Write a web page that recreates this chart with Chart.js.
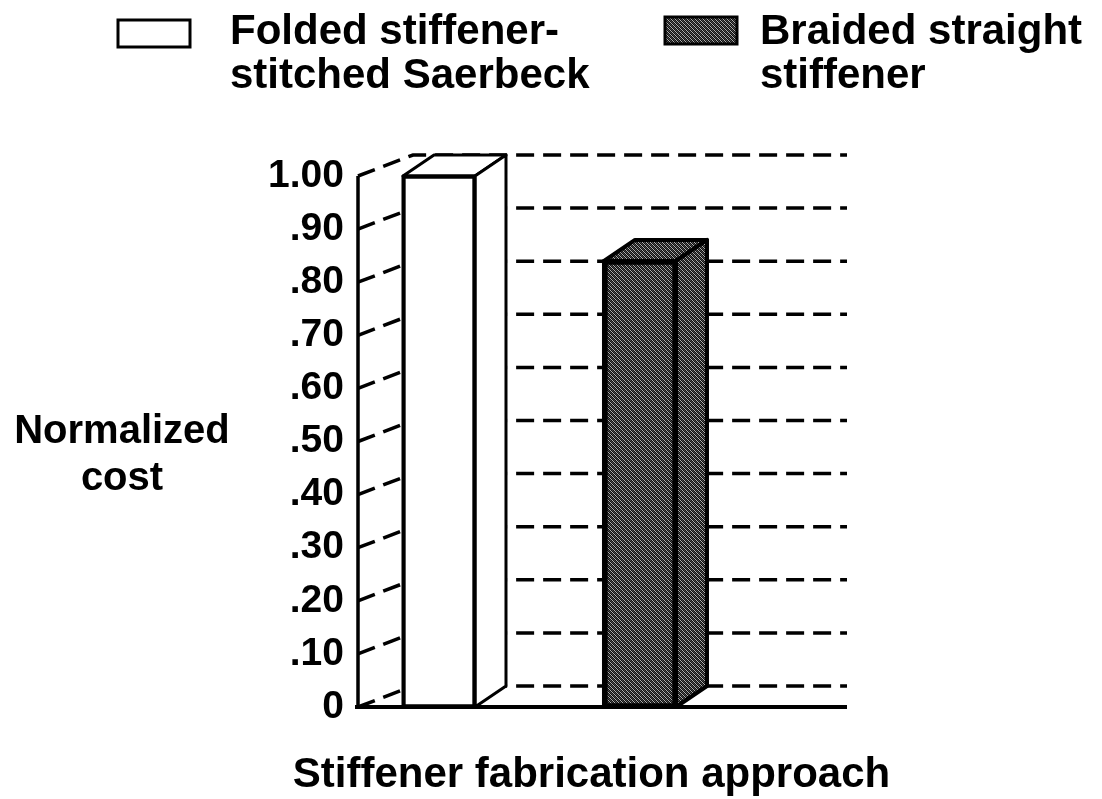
<!DOCTYPE html>
<html>
<head>
<meta charset="utf-8">
<script src="https://cdn.jsdelivr.net/npm/chart.js@4.4.1/dist/chart.umd.min.js"></script>
<style>
  html, body { margin: 0; padding: 0; background: #fff; }
</style>
</head>
<body>
<canvas id="myChart" width="1102" height="799"></canvas>
<script>
// Datos
const categories = ['Folded stiffener-stitched Saerbeck', 'Braided straight stiffener'];
const legendLines = [['Folded stiffener-', 'stitched Saerbeck'], ['Braided straight', 'stiffener']];
const costValues = [1.00, 0.84];
const tickValues = [0, 0.1, 0.2, 0.3, 0.4, 0.5, 0.6, 0.7, 0.8, 0.9, 1.0];
const tickLabels = ['0', '.10', '.20', '.30', '.40', '.50', '.60', '.70', '.80', '.90', '1.00'];
const yTitle = ['Normalized', 'cost'];
const xTitle = 'Stiffener fabrication approach';

const FONT = "'Liberation Sans', Arial, Helvetica, sans-serif";
const canvas = document.getElementById('myChart');
const ctx = canvas.getContext('2d');

// trama oscura tipo punteado
function makePattern() {
    const c = document.createElement('canvas');
    c.width = 4; c.height = 4;
    const g = c.getContext('2d');
    g.fillStyle = '#111';
    g.fillRect(0, 0, 4, 4);
    g.fillStyle = '#b0b0b0';
    for (let i = 0; i < 4; i++) g.fillRect(i, i, 1, 1);
    g.fillStyle = '#4a4a4a';
    for (let i = 0; i < 4; i++) g.fillRect(i, (i + 2) % 4, 1, 1);
    return ctx.createPattern(c, 'repeat');
}
const darkFill = makePattern();
const fills = ['#ffffff', darkFill];
const borders = [3, 4];

// profundidad 3D
const depthX = 31, depthY = 21, wallX = 55;

const threeD = {
    id: 'threeD',
    beforeDatasetsDraw(chart) {
        const { ctx, chartArea: a, scales: { y } } = chart;
        ctx.save();
        ctx.strokeStyle = '#000';
        ctx.lineWidth = 3.5;
        ctx.setLineDash([18, 9]);
        tickValues.forEach(v => {
            const py = y.getPixelForValue(v);
            ctx.beginPath();
            ctx.moveTo(a.left, py);
            ctx.lineTo(a.left + wallX, py - depthY);
            ctx.lineTo(a.right, py - depthY);
            ctx.stroke();
        });
        ctx.setLineDash([]);
        ctx.beginPath();
        ctx.moveTo(a.left, y.getPixelForValue(1));
        ctx.lineTo(a.left, y.getPixelForValue(0));
        ctx.stroke();
        ctx.restore();
    },
    afterDatasetsDraw(chart) {
        const { ctx, chartArea: a, scales: { y } } = chart;
        const meta = chart.getDatasetMeta(0);
        ctx.save();
        ctx.strokeStyle = '#000';
        ctx.lineJoin = 'round';
        meta.data.forEach((bar, i) => {
            const { x, y: top, base, width } = bar.getProps(['x', 'y', 'base', 'width'], true);
            const L = x - width / 2, R = x + width / 2;
            ctx.fillStyle = fills[i];
            ctx.lineWidth = borders[i];
            // cara superior
            ctx.beginPath();
            ctx.moveTo(L, top);
            ctx.lineTo(L + depthX, top - depthY);
            ctx.lineTo(R + depthX, top - depthY);
            ctx.lineTo(R, top);
            ctx.closePath();
            ctx.fill();
            ctx.stroke();
            // cara lateral
            ctx.beginPath();
            ctx.moveTo(R, top);
            ctx.lineTo(R + depthX, top - depthY);
            ctx.lineTo(R + depthX, base - depthY);
            ctx.lineTo(R, base);
            ctx.closePath();
            ctx.fill();
            ctx.stroke();
            ctx.strokeRect(L, top, width, base - top);
        });
        // línea base
        ctx.lineWidth = 4;
        ctx.beginPath();
        ctx.moveTo(a.left - 3, y.getPixelForValue(0));
        ctx.lineTo(a.right, y.getPixelForValue(0));
        ctx.stroke();
        ctx.restore();
    },
    afterDraw(chart) {
        const { ctx, chartArea: a } = chart;
        ctx.save();
        ctx.fillStyle = '#000';
        ctx.textBaseline = 'alphabetic';
        // título eje Y horizontal
        ctx.font = 'bold 40px ' + FONT;
        ctx.textAlign = 'center';
        ctx.fillText(yTitle[0], 122, 443);
        ctx.fillText(yTitle[1], 122, 490);
        // título eje X
        ctx.font = 'bold 42px ' + FONT;
        ctx.fillText(xTitle, (a.left + a.right) / 2 - 11, 787);
        // leyenda
        const items = [
            { bx: 118, by: 20, tx: 230 },
            { bx: 665, by: 17, tx: 760 }
        ];
        ctx.textAlign = 'left';
        items.forEach((it, i) => {
            ctx.fillStyle = fills[i];
            ctx.fillRect(it.bx, it.by, 72, 27);
            ctx.strokeStyle = '#000';
            ctx.lineWidth = 3;
            ctx.strokeRect(it.bx, it.by, 72, 27);
            ctx.fillStyle = '#000';
            ctx.fillText(legendLines[i][0], it.tx, 44);
            ctx.fillText(legendLines[i][1], it.tx, 88);
        });
        ctx.restore();
    }
};

new Chart(ctx, {
    type: 'bar',
    data: {
        datasets: [{
            label: categories.join(' / '),
            data: costValues.map((v, i) => ({ x: i, y: v })),
            backgroundColor: fills,
            borderColor: '#000',
            borderWidth: borders,
            borderSkipped: false,
            barThickness: 72,
            clip: false
        }]
    },
    options: {
        responsive: false,
        devicePixelRatio: 1,
        animation: false,
        layout: { padding: { left: 158, right: 255, top: 176, bottom: 92 } },
        scales: {
            x: { type: 'linear', min: -0.403, max: 2.03, offset: false, display: false },
            y: {
                min: 0,
                max: 1,
                stacked: false,
                afterBuildTicks: scale => { scale.ticks = tickValues.map(v => ({ value: v })); },
                afterFit: scale => { scale.width = 200; },
                ticks: {
                    callback: (value, index) => tickLabels[index],
                    color: '#000',
                    padding: 14,
                    font: { family: FONT, size: 39, weight: 'bold' }
                },
                grid: { display: false, drawTicks: false },
                border: { display: false }
            }
        },
        plugins: {
            legend: { display: false },
            tooltip: { enabled: false }
        }
    },
    plugins: [threeD]
});
</script>
</body>
</html>
